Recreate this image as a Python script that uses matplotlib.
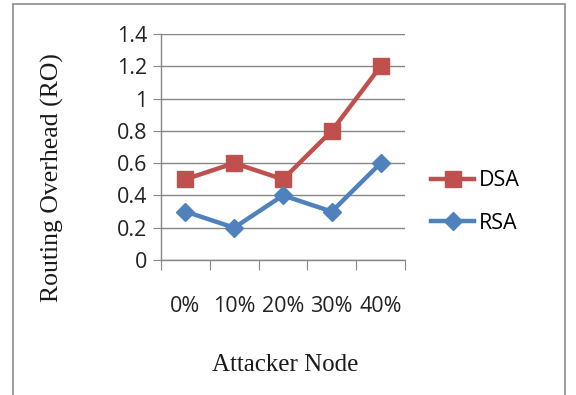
import matplotlib.pyplot as plt
from matplotlib.patches import Rectangle

categories = ["0%", "10%", "20%", "30%", "40%"]
dsa = [0.5, 0.6, 0.5, 0.8, 1.2]
rsa = [0.3, 0.2, 0.4, 0.3, 0.6]
yticks = [0, 0.2, 0.4, 0.6, 0.8, 1, 1.2, 1.4]
ytick_labels = ["0", "0.2", "0.4", "0.6", "0.8", "1", "1.2", "1.4"]

W, H = 576, 395
fig = plt.figure(figsize=(W / 100, H / 100), dpi=100)
fig.patch.set_facecolor("white")

# outer chart frame
fig.patches.append(Rectangle((13 / W, -0.02), 552 / W, 1 - 4 / H + 0.02,
                             transform=fig.transFigure, fill=False,
                             edgecolor="#8c8c8c", linewidth=1.2))

ax = fig.add_axes([161 / W, 1 - 260 / H, 244 / W, 226 / H])
x = list(range(len(categories)))
ax.set_xlim(-0.5, len(categories) - 0.5)
ax.set_ylim(0, 1.4)

for y in yticks:
    ax.axhline(y, color="#868686", linewidth=1.0, zorder=0)

ax.plot(x, dsa, color="#C0504D", linewidth=3.2, marker="s", markersize=12,
        label="DSA", zorder=3)
ax.plot(x, rsa, color="#4F81BD", linewidth=3.2, marker="D", markersize=9,
        label="RSA", zorder=3)

for s in ["top", "right"]:
    ax.spines[s].set_visible(False)
for s in ["left", "bottom"]:
    ax.spines[s].set_color("#868686")
    ax.spines[s].set_linewidth(1.0)

ax.set_yticks(yticks)
ax.set_yticklabels(ytick_labels, fontsize=15.5, family="Open Sans", color="#222222")
ax.tick_params(axis="y", length=6, color="#868686", pad=4)

# category boundaries carry the tick marks, labels sit at the centres
ax.set_xticks([i - 0.5 for i in range(len(categories) + 1)])
ax.set_xticklabels([])
ax.tick_params(axis="x", length=7, color="#868686")
for i, c in enumerate(categories):
    ax.text(i, -0.29, c, ha="center", va="center", fontsize=15.5,
            family="Open Sans", color="#222222")

fig.text(285 / W, 1 - 365 / H, "Attacker Node", ha="center", va="center",
         fontsize=18, family="Liberation Serif", color="#1a1a1a")
fig.text(52 / W, 1 - 178 / H, "Routing Overhead (RO)", ha="center",
         va="center", rotation=90, fontsize=18.5, family="Liberation Serif",
         color="#1a1a1a")

fig.legend(loc="center left", bbox_to_anchor=(412 / W, 1 - 202 / H),
           frameon=False, prop={"family": "Open Sans", "size": 15.5},
           handlelength=2.0, handletextpad=0.2, labelspacing=1.0)

fig.savefig("out.png", dpi=100)
